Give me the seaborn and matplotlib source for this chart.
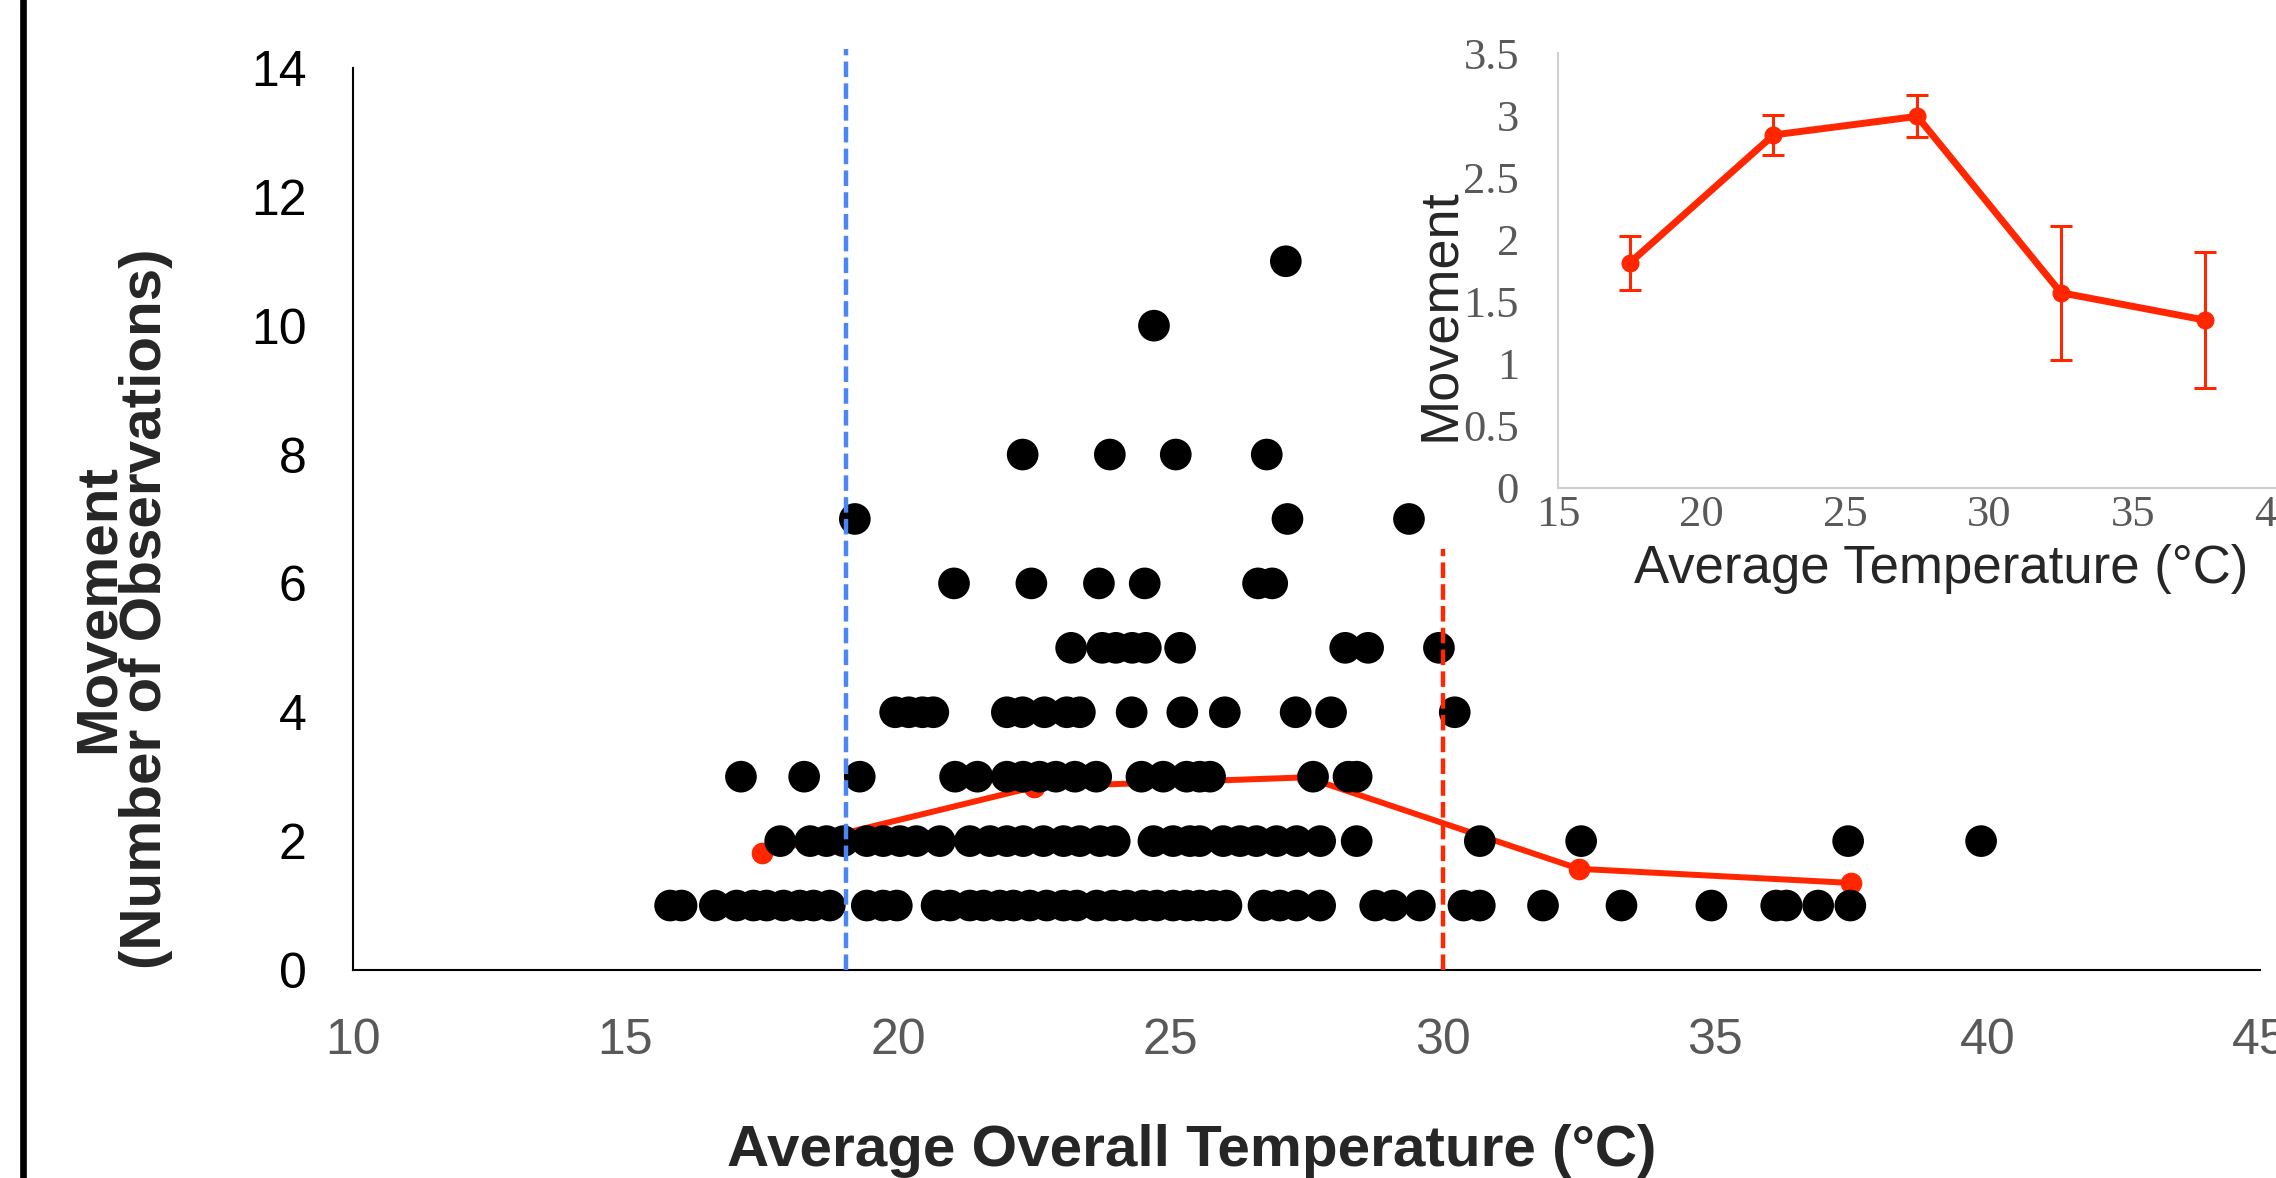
import matplotlib
matplotlib.use("Agg")
import matplotlib.pyplot as plt
from matplotlib.lines import Line2D
import seaborn as sns
import pandas as pd

# temperatures of each observation, grouped by movement count
temps_1 = [15.82, 16.03, 16.64, 17.04, 17.35, 17.59, 17.9, 18.2, 18.45, 18.75,
           19.43, 19.73, 19.98, 20.71, 20.96, 21.32, 21.57, 21.87, 22.12, 22.42,
           22.73, 23.04, 23.28, 23.65, 23.95, 24.2, 24.5, 24.75, 25.05, 25.3,
           25.54, 25.79, 26.03, 26.71, 27.01, 27.32, 27.75, 28.76, 29.09, 29.58,
           30.38, 30.68, 31.84, 33.28, 34.93, 36.12, 36.31, 36.89, 37.48]
temps_2 = [17.84, 18.39, 18.69, 19.0, 19.43, 19.73, 20.04, 20.34, 20.77, 21.32,
           21.69, 22.0, 22.3, 22.67, 23.04, 23.34, 23.71, 23.98, 24.69, 25.05,
           25.36, 25.54, 25.97, 26.28, 26.58, 26.95, 27.32, 27.75, 28.42, 30.68,
           32.54, 37.44, 39.88]
temps_3 = [17.12, 18.28, 19.3, 21.05, 21.46, 22.0, 22.3, 22.6, 22.9, 23.25,
           23.64, 24.47, 24.87, 25.3, 25.54, 25.73, 27.62, 28.27, 28.42]
temps_4 = [19.95, 20.2, 20.45, 20.65, 22.0, 22.29, 22.69, 23.1, 23.34, 24.29,
           25.22, 26.0, 27.3, 27.95, 30.22]
temps_5 = [23.18, 23.75, 24.0, 24.3, 24.55, 25.18, 28.21, 28.63, 29.93]
temps_6 = [21.03, 22.45, 23.69, 24.53, 26.61, 26.87]
temps_7 = [19.21, 27.15, 29.38]
temps_8 = [22.29, 23.89, 25.1, 26.77]
temps_10 = [24.7]
temps_11 = [27.12]
movement_counts = [1, 2, 3, 4, 5, 6, 7, 8, 10, 11]

# binned means (5 degree bins) with error
bin_temps = [17.5, 22.5, 27.5, 32.5, 37.5]
bin_means = [1.81, 2.84, 2.99, 1.57, 1.35]
bin_err = [0.22, 0.16, 0.17, 0.54, 0.55]

cold_limit = 19.05
hot_limit = 30.0

x_ticks = [10, 15, 20, 25, 30, 35, 40, 45]
y_ticks = [0, 2, 4, 6, 8, 10, 12, 14]
inset_x_ticks = [15, 20, 25, 30, 35, 40]
inset_y_ticks = [0, 0.5, 1, 1.5, 2, 2.5, 3, 3.5]
inset_y_labels = ["0", "0.5", "1", "1.5", "2", "2.5", "3", "3.5"]

RED = "#ff2600"
BLUE = "#4a86f5"
GRAY = "#595959"

rows = [temps_1, temps_2, temps_3, temps_4, temps_5, temps_6, temps_7,
        temps_8, temps_10, temps_11]
obs = pd.DataFrame({
    "temp": [t for row in rows for t in row],
    "movement": [c for c, row in zip(movement_counts, rows) for _ in row],
})

sns.set_style("white")
plt.rcParams["font.family"] = ["Liberation Sans", "DejaVu Sans"]

fig = plt.figure(figsize=(22.76, 11.78), dpi=100)

# main scatter
ax = fig.add_axes([0.1551, 0.1766, 0.8379, 0.7657])
sns.lineplot(x=bin_temps, y=bin_means, ax=ax, color=RED, lw=4.3, marker="o",
             markersize=15.6, markeredgewidth=0, zorder=2)
sns.scatterplot(data=obs, x="temp", y="movement", ax=ax, color="black",
                s=520, edgecolor="none", zorder=3, legend=False)
ax.vlines(cold_limit, 0, 14.3, colors=BLUE, linestyles=(0, (3.5, 1.4)),
          lw=3.2, clip_on=False, zorder=4)
ax.vlines(hot_limit, 0, 6.54, colors=RED, linestyles=(0, (3.5, 1.4)),
          lw=3.2, clip_on=False, zorder=4)

ax.set_xlim(10, 45)
ax.set_ylim(0, 14)
ax.set_xticks(x_ticks)
ax.set_yticks(y_ticks)
for side in ["top", "right"]:
    ax.spines[side].set_visible(False)
for side in ["left", "bottom"]:
    ax.spines[side].set_linewidth(1.5)
    ax.spines[side].set_color("black")
ax.tick_params(axis="both", direction="inout", length=23, width=1.5,
               labelsize=36, color="black")
ax.tick_params(axis="x", pad=23, labelcolor=GRAY)
ax.tick_params(axis="y", pad=22, labelcolor="black")

ax.set_xlabel("Average Overall Temperature (°C)", fontsize=42,
              fontweight="bold")
ax.xaxis.set_label_coords(0.44, -0.2007)
ax.xaxis.label.set_verticalalignment("center")
ax.set_ylabel("Movement\n(Number of Observations)", fontsize=42,
              fontweight="bold", linespacing=0.85)
ax.yaxis.set_label_coords(-0.121, 0.401)
ax.yaxis.label.set_verticalalignment("center")

# inset of binned means
axin = fig.add_axes([0.6845, 0.586, 0.3157, 0.369])
axin.errorbar(bin_temps, bin_means, yerr=bin_err, fmt="none", ecolor=RED,
              elinewidth=2.2, capsize=8, capthick=2.2, zorder=2)
sns.lineplot(x=bin_temps, y=bin_means, ax=axin, color=RED, lw=5,
             marker="o", markersize=13, markeredgewidth=0, zorder=3)
axin.set_xlim(15, 40)
axin.set_ylim(0, 3.5)
axin.set_xticks(inset_x_ticks)
axin.set_yticks(inset_y_ticks)
axin.set_yticklabels(inset_y_labels)
axin.set_facecolor("none")
for side in ["top", "right"]:
    axin.spines[side].set_visible(False)
for side in ["left", "bottom"]:
    axin.spines[side].set_linewidth(1.5)
    axin.spines[side].set_color("#d0d0d0")
axin.tick_params(axis="both", length=0, labelsize=32, labelcolor=GRAY)
axin.tick_params(axis="x", pad=5)
axin.tick_params(axis="y", pad=28)
for lbl in axin.get_xticklabels() + axin.get_yticklabels():
    lbl.set_family(["Liberation Serif", "DejaVu Serif"])
axin.set_xlabel("Average Temperature (°C)", fontsize=38)
axin.xaxis.set_label_coords(0.533, -0.187)
axin.xaxis.label.set_verticalalignment("center")
axin.set_ylabel("Movement", fontsize=39)
axin.yaxis.set_label_coords(-0.164, 0.397)
axin.yaxis.label.set_verticalalignment("center")

# black bar at the left edge of the original figure
fig.add_artist(Line2D([0.01025, 0.01025], [0, 1], transform=fig.transFigure,
                      color="black", lw=4.8))

fig.savefig("out.png", dpi=100)
